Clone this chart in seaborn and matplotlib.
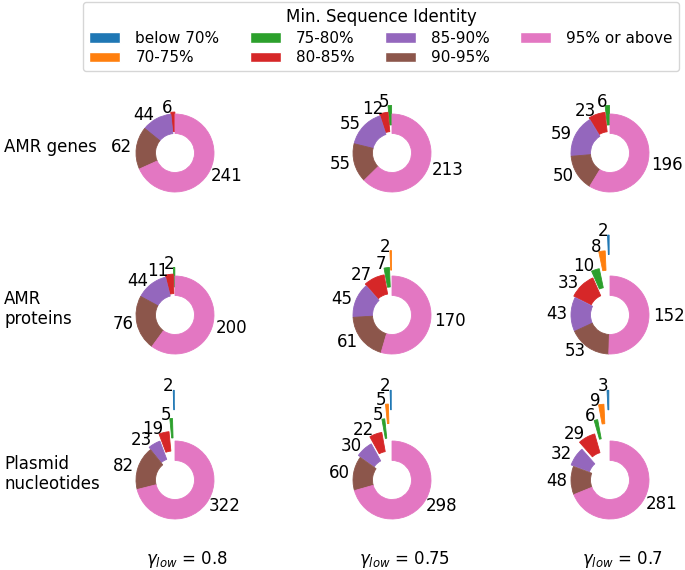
import matplotlib
matplotlib.use("Agg")
import matplotlib.pyplot as plt
import seaborn as sns
from matplotlib.patches import Patch

sns.set_style("white")
plt.rcParams['font.family'] = ['DejaVu Sans']
plt.rcParams['text.color'] = 'black'

categories = ['below 70%', '70-75%', '75-80%', '80-85%', '85-90%', '90-95%', '95% or above']
row_names = ['AMR genes', 'AMR\nproteins', 'Plasmid\nnucleotides']
gamma_values = ['0.8', '0.75', '0.7']

amr_genes = [[0, 0, 0, 6, 44, 62, 241],
             [0, 0, 5, 12, 55, 55, 213],
             [0, 0, 6, 23, 59, 50, 196]]
amr_proteins = [[0, 0, 2, 11, 44, 76, 200],
                [0, 2, 7, 27, 45, 61, 170],
                [2, 8, 10, 33, 43, 53, 152]]
plasmid_nt = [[2, 0, 5, 19, 23, 82, 322],
              [2, 5, 5, 22, 30, 60, 298],
              [3, 9, 6, 29, 32, 48, 281]]

# how far each category is pulled out of the ring, per row
explode_rows = [[1.05, 0.65, 0.22, 0.05, 0, 0, 0],
                [1.05, 0.65, 0.22, 0.05, 0, 0, 0],
                [1.3, 0.95, 0.58, 0.25, 0.07, 0, 0]]

colors = sns.color_palette("tab10", len(categories))

W, H = 685, 570
fig = plt.figure(figsize=(W / 100, H / 100), dpi=100)

col_x = [175, 392, 610]
row_y = [153, 315, 480]
r_px = 39
lim = 2.0
box = 2 * lim * r_px

for i, data in enumerate([amr_genes, amr_proteins, plasmid_nt]):
    for j in range(3):
        cx, cy = col_x[j], row_y[i]
        ax = fig.add_axes([(cx - box / 2) / W, 1 - (cy + box / 2) / H, box / W, box / H])
        vals, cols, expl = [], [], []
        for k, v in enumerate(data[j]):
            if v > 0:
                vals.append(v)
                cols.append(colors[k])
                expl.append(explode_rows[i][k])
        wedges, texts = ax.pie(vals, colors=cols, explode=expl, labels=[str(v) for v in vals],
                               startangle=90, counterclock=True,
                               wedgeprops=dict(width=0.5, linewidth=0.6),
                               textprops=dict(fontsize=12, color='black'))
        for w in wedges:
            w.set_edgecolor(w.get_facecolor())
            w.set_clip_on(False)
        ax.set_xlim(-lim, lim)
        ax.set_ylim(-lim, lim)
        ax.set_aspect('equal')
        ax.axis('off')

for i, name in enumerate(row_names):
    fig.text(4 / W, 1 - (row_y[i] - 6) / H, name, ha='left', va='center', fontsize=12)

for j, g in enumerate(gamma_values):
    fig.text((col_x[j] + 12) / W, 1 - 560 / H, r'$\gamma_{low}$ = ' + g, ha='center', va='center', fontsize=12)

handles = [Patch(facecolor=c) for c in colors]
fig.legend(handles, categories, ncol=4, title='Min. Sequence Identity', loc='upper center',
           bbox_to_anchor=(381 / W, 1 - 2 / H), borderaxespad=0, fontsize=11, title_fontsize=12,
           handletextpad=1.0, labelspacing=0.3)

fig.savefig('out.png', dpi=100)
